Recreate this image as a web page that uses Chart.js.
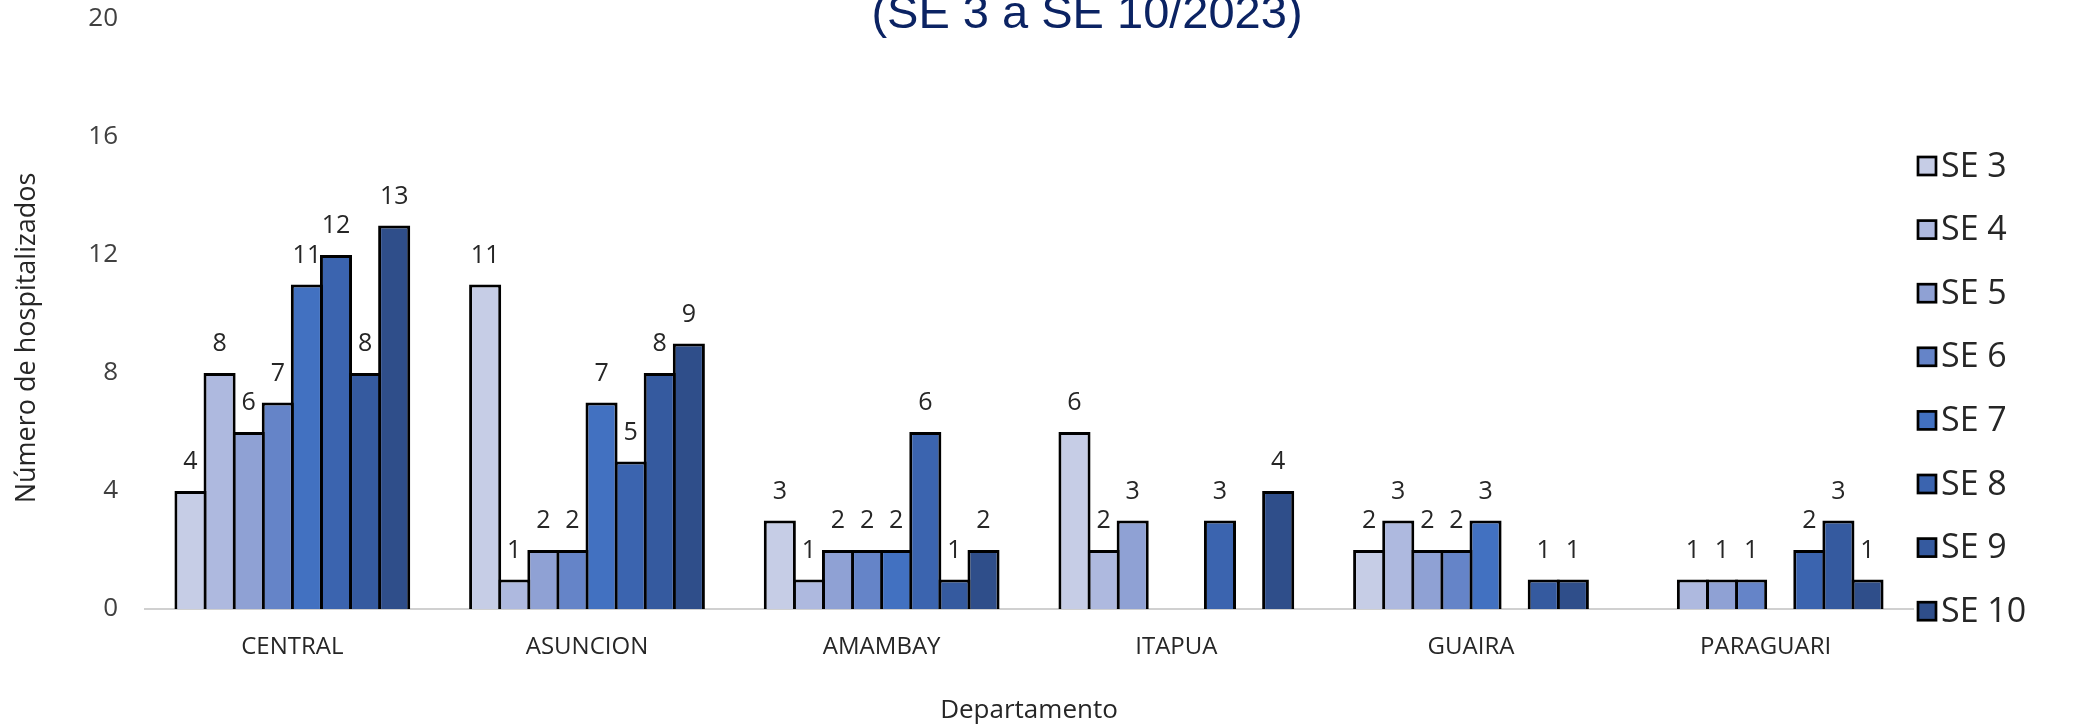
<!DOCTYPE html>
<html>
<head>
<meta charset="utf-8">
<script src="https://cdn.jsdelivr.net/npm/chart.js@4.4.1/dist/chart.umd.min.js"></script>
<style>
  html, body { margin: 0; padding: 0; background: #ffffff; }
  #wrap { width: 2079px; height: 726px; position: relative; }
</style>
</head>
<body>
<div id="wrap"><canvas id="c" width="2079" height="726"></canvas></div>
<script>
// ---- data ----
const categories = ['CENTRAL', 'ASUNCION', 'AMAMBAY', 'ITAPUA', 'GUAIRA', 'PARAGUARI'];
const weekLabels = ['SE 3', 'SE 4', 'SE 5', 'SE 6', 'SE 7', 'SE 8', 'SE 9', 'SE 10'];
const se3  = [4, 11, 3, 6, 2, null];
const se4  = [8, 1, 1, 2, 3, 1];
const se5  = [6, 2, 2, 3, 2, 1];
const se6  = [7, 2, 2, null, 2, 1];
const se7  = [11, 7, 2, null, 3, null];
const se8  = [12, 5, 6, 3, null, 2];
const se9  = [8, 8, 1, null, 1, 3];
const se10 = [13, 9, 2, 4, 1, 1];
const yTickValues = [0, 4, 8, 12, 16, 20];
const titleText = '(SE 3 a SE 10/2023)';
const yTitle = 'Número de hospitalizados';
const xTitle = 'Departamento';

// ---- styles ----
const seriesValues = [se3, se4, se5, se6, se7, se8, se9, se10];
const seriesColors = ['#C6CDE6', '#AEB9DF', '#8FA1D4', '#6584C8', '#4271C1', '#3B64AF', '#355A9F', '#2F4E8A'];
const FONT = "'Open Sans', sans-serif";
const TEXT = '#262626';

const datasets = seriesValues.map((vals, i) => ({
  label: weekLabels[i],
  data: vals,
  backgroundColor: seriesColors[i],
  borderColor: '#000000',
  borderWidth: 3,
  categoryPercentage: 0.79,
  barPercentage: 1.103
}));

const overlayText = {
  id: 'overlayText',
  afterDraw(chart) {
    const ctx = chart.ctx;
    ctx.save();
    // title (upper part cropped like the reference)
    ctx.fillStyle = '#0B2363';
    ctx.font = "47px 'Liberation Sans', Arial, sans-serif";
    ctx.textAlign = 'center';
    ctx.textBaseline = 'alphabetic';
    ctx.fillText(titleText, 1087, 28);

    // legend (right side)
    const lx = chart.chartArea.right + 5;
    ctx.font = "34px " + FONT;
    ctx.textAlign = 'left';
    ctx.textBaseline = 'middle';
    weekLabels.forEach((lab, i) => {
      const cy = 166 + i * 63.6;
      ctx.fillStyle = seriesColors[i];
      ctx.fillRect(lx, cy - 9, 18, 18);
      ctx.lineWidth = 2.7;
      ctx.strokeStyle = '#000000';
      ctx.strokeRect(lx, cy - 9, 18, 18);
      ctx.fillStyle = TEXT;
      ctx.fillText(lab, lx + 23, cy + 1);
    });

    // y axis title
    ctx.fillStyle = TEXT;
    ctx.font = "27px " + FONT;
    ctx.translate(27, 338);
    ctx.rotate(-Math.PI / 2);
    ctx.textAlign = 'center';
    ctx.textBaseline = 'middle';
    ctx.fillText(yTitle, 0, 0);
    ctx.restore();
  }
};

const valueLabels = {
  id: 'valueLabels',
  afterDatasetsDraw(chart) {
    const ctx = chart.ctx;
    ctx.save();
    ctx.fillStyle = TEXT;
    ctx.font = "25px " + FONT;
    ctx.textAlign = 'center';
    ctx.textBaseline = 'middle';
    chart.data.datasets.forEach((ds, di) => {
      const meta = chart.getDatasetMeta(di);
      meta.data.forEach((el, i) => {
        const v = ds.data[i];
        if (v === null || v === undefined) return;
        ctx.fillText(String(v), el.x, el.y - 29);
      });
    });
    ctx.restore();
  }
};

new Chart(document.getElementById('c'), {
  type: 'bar',
  data: { labels: categories, datasets },
  options: {
    responsive: false,
    animation: false,
    devicePixelRatio: 1,
    layout: { padding: { left: 0, right: 166, top: 19, bottom: 0 } },
    scales: {
      x: {
        grid: { display: false, drawTicks: false },
        border: { display: true, color: '#D0D0D0', width: 2 },
        ticks: { font: { family: FONT, size: 24 }, color: TEXT, padding: 24, maxRotation: 0, autoSkip: false },
        title: { display: true, text: xTitle, font: { family: FONT, size: 26 }, color: TEXT, padding: { top: 0, bottom: 0 } },
        afterFit(scale) { scale.height = 117; }
      },
      y: {
        min: 0, max: 20,
        grid: { display: false, drawTicks: false },
        border: { display: false },
        ticks: { font: { family: FONT, size: 26 }, color: '#404040', padding: 27 },
        afterBuildTicks(scale) { scale.ticks = yTickValues.map(v => ({ value: v })); },
        afterFit(scale) { scale.width = 145; scale.paddingTop = 0; scale.paddingBottom = 0; }
      }
    },
    plugins: {
      legend: { display: false },
      tooltip: { enabled: false },
      title: { display: false }
    }
  },
  plugins: [overlayText, valueLabels]
});
</script>
</body>
</html>
